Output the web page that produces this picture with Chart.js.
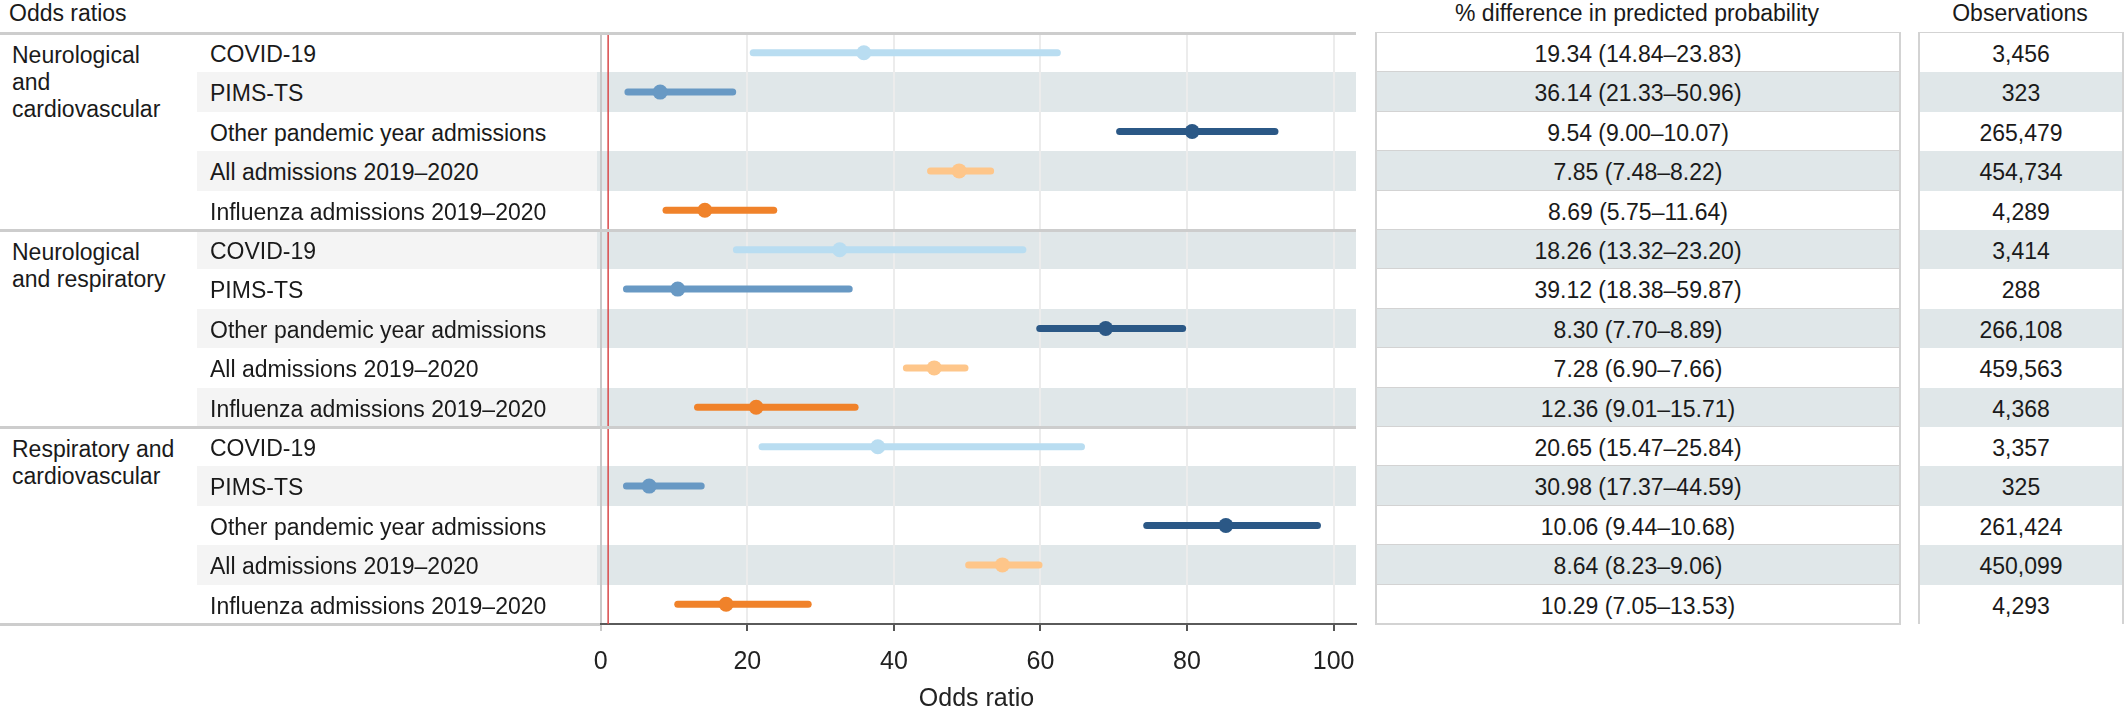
<!DOCTYPE html>
<html>
<head>
<meta charset="utf-8">
<script src="https://cdn.jsdelivr.net/npm/chart.js@4.4.1/dist/chart.umd.min.js"></script>
<style>
body { margin: 0; }
#page {
    position: relative; width: 2124px; height: 709px; overflow: hidden; background: #fff;
    font-family: "Liberation Sans", Arial, sans-serif; font-size: 23px; color: #1a1a1a;
}
.abs { position: absolute; white-space: nowrap; }
.head { top: 2px; line-height: 22px; z-index: 3; }
.center { text-align: center; }
.band { z-index: 0; }
.sep { z-index: 2; background: #cdcdcd; height: 3px; }
.txt { z-index: 3; }
.cell { box-sizing: border-box; text-align: center; z-index: 3; }
#chartBox { z-index: 1; }
</style>
</head>
<body>
<div id="page">
    <div class="abs head" style="left:9px;">Odds ratios</div>
    <div class="abs head center" style="left:1375px;width:524px;">% difference in predicted probability</div>
    <div class="abs head center" style="left:1918px;width:204px;">Observations</div>
    <div id="chartBox" class="abs" style="left:560px;top:33px;width:820px;height:679px;">
        <canvas id="forestChart"></canvas>
    </div>
</div>
<script>
// data
const groupLabels = [
    ["Neurological", "and", "cardiovascular"],
    ["Neurological", "and respiratory"],
    ["Respiratory and", "cardiovascular"]
];
const categories = ["COVID-19", "PIMS-TS", "Other pandemic year admissions",
    "All admissions 2019\u20132020", "Influenza admissions 2019\u20132020"];
const categoryColors = ["#b9ddf1", "#6899c4", "#2b5886", "#fec68a", "#f0822a"];

const orEstimate = [35.9, 8.1, 80.7, 48.9, 14.2, 32.6, 10.5, 68.9, 45.5, 21.2, 37.8, 6.6, 85.3, 54.8, 17.1];
const orLower = [20.8, 3.7, 70.8, 45.0, 8.9, 18.5, 3.5, 59.9, 41.7, 13.2, 22.0, 3.5, 74.5, 50.2, 10.5];
const orUpper = [62.3, 18.0, 92.0, 53.2, 23.6, 57.6, 33.9, 79.4, 49.7, 34.7, 65.6, 13.7, 97.8, 59.8, 28.3];

const pctDifference = [
    "19.34 (14.84\u201323.83)", "36.14 (21.33\u201350.96)", "9.54 (9.00\u201310.07)", "7.85 (7.48\u20138.22)", "8.69 (5.75\u201311.64)",
    "18.26 (13.32\u201323.20)", "39.12 (18.38\u201359.87)", "8.30 (7.70\u20138.89)", "7.28 (6.90\u20137.66)", "12.36 (9.01\u201315.71)",
    "20.65 (15.47\u201325.84)", "30.98 (17.37\u201344.59)", "10.06 (9.44\u201310.68)", "8.64 (8.23\u20139.06)", "10.29 (7.05\u201313.53)"
];
const observations = ["3,456", "323", "265,479", "454,734", "4,289", "3,414", "288", "266,108",
    "459,563", "4,368", "3,357", "325", "261,424", "450,099", "4,293"];

const xTicks = [0, 20, 40, 60, 80, 100];
const referenceOR = 1;

// layout
const TOP = 33;
const ROW_H = 39.4;
const TEXT_SHIFT = 2;
const FONT = "'Liberation Sans', Arial, sans-serif";
const page = document.getElementById("page");

function addDiv(cls, style, text) {
    const d = document.createElement("div");
    d.className = "abs " + cls;
    d.style.cssText = style;
    if (text !== undefined) d.textContent = text;
    page.appendChild(d);
    return d;
}

const nRows = groupLabels.length * categories.length;
for (let i = 0; i < nRows; i++) {
    const top = TOP + i * ROW_H;
    const shaded = i % 2 === 1;
    if (shaded) {
        addDiv("band", `left:197px;top:${top}px;width:400px;height:${ROW_H}px;background:#f4f4f4;`);
        addDiv("band", `left:597px;top:${top}px;width:759px;height:${ROW_H}px;background:#e0e7e9;`);
    }
    addDiv("txt", `left:210px;top:${top + TEXT_SHIFT}px;line-height:${ROW_H}px;`, categories[i % categories.length]);
    addDiv("cell", `left:1375px;top:${top}px;width:526px;height:${ROW_H + 1}px;line-height:${ROW_H - 1}px;` +
        `padding-top:${TEXT_SHIFT}px;border:2px solid #d3d3d3;border-top:none;background:${shaded ? "#e0e7e9" : "#fff"};`, pctDifference[i]);
    addDiv("cell", `left:1918px;top:${top}px;width:206px;height:${ROW_H}px;line-height:${ROW_H}px;` +
        `padding-top:${TEXT_SHIFT}px;border-left:2px solid #d3d3d3;border-right:2px solid #d3d3d3;background:${shaded ? "#e0e7e9" : "#fff"};`, observations[i]);
}
// table top borders
addDiv("sep", "left:1375px;top:32px;width:526px;height:2px;background:#d3d3d3;");
addDiv("sep", "left:1918px;top:32px;width:206px;height:2px;background:#d3d3d3;");

groupLabels.forEach((lines, g) => {
    const gTop = TOP + g * categories.length * ROW_H;
    lines.forEach((line, k) => {
        addDiv("txt", `left:12px;top:${gTop + 6.5 + TEXT_SHIFT + k * 27}px;line-height:27px;`, line);
    });
    addDiv("sep", `left:0;top:${gTop - 1.5}px;width:1356px;`);
});
addDiv("sep", `left:0;top:${TOP + nRows * ROW_H - 1.5}px;width:600px;`);

// chart
const datasets = [{
    data: [{ x: referenceOR, y: -0.5 }, { x: referenceOR, y: nRows - 0.5 }],
    borderColor: "#d9494b", borderWidth: 1.5, pointRadius: 0
}];
for (let i = 0; i < nRows; i++) {
    const color = categoryColors[i % categoryColors.length];
    datasets.push({
        data: [{ x: orLower[i], y: i }, { x: orEstimate[i], y: i }, { x: orUpper[i], y: i }],
        borderColor: color,
        borderWidth: 7,
        borderCapStyle: "round",
        pointRadius: [0, 7.5, 0],
        pointBackgroundColor: color,
        pointBorderWidth: 0
    });
}

new Chart(document.getElementById("forestChart"), {
    type: "line",
    data: { datasets: datasets },
    options: {
        responsive: true,
        maintainAspectRatio: false,
        animation: false,
        events: [],
        layout: { padding: { left: 37, right: 24, top: 0, bottom: 0 } },
        plugins: { legend: { display: false }, tooltip: { enabled: false } },
        scales: {
            x: {
                type: "linear",
                min: -0.52,
                max: 103.06,
                afterBuildTicks: axis => { axis.ticks = xTicks.map(v => ({ value: v })); },
                afterFit: axis => { axis.height = 88; },
                grid: {
                    color: c => (c.tick && c.tick.value === 0) ? "#c9c9c9" : "#ececec",
                    lineWidth: 2,
                    tickLength: 7,
                    tickColor: c => (c.tick && c.tick.value === 0) ? "#c9c9c9" : "#555"
                },
                border: { display: true, color: "#5a5a5a", width: 2 },
                ticks: { font: { family: FONT, size: 25 }, color: "#222", padding: 16 },
                title: {
                    display: true, text: "Odds ratio", color: "#222",
                    font: { family: FONT, size: 25, lineHeight: 1 }, padding: 0
                }
            },
            y: { type: "linear", min: -0.5, max: nRows - 0.5, reverse: true, display: false }
        }
    }
});
</script>
</body>
</html>
